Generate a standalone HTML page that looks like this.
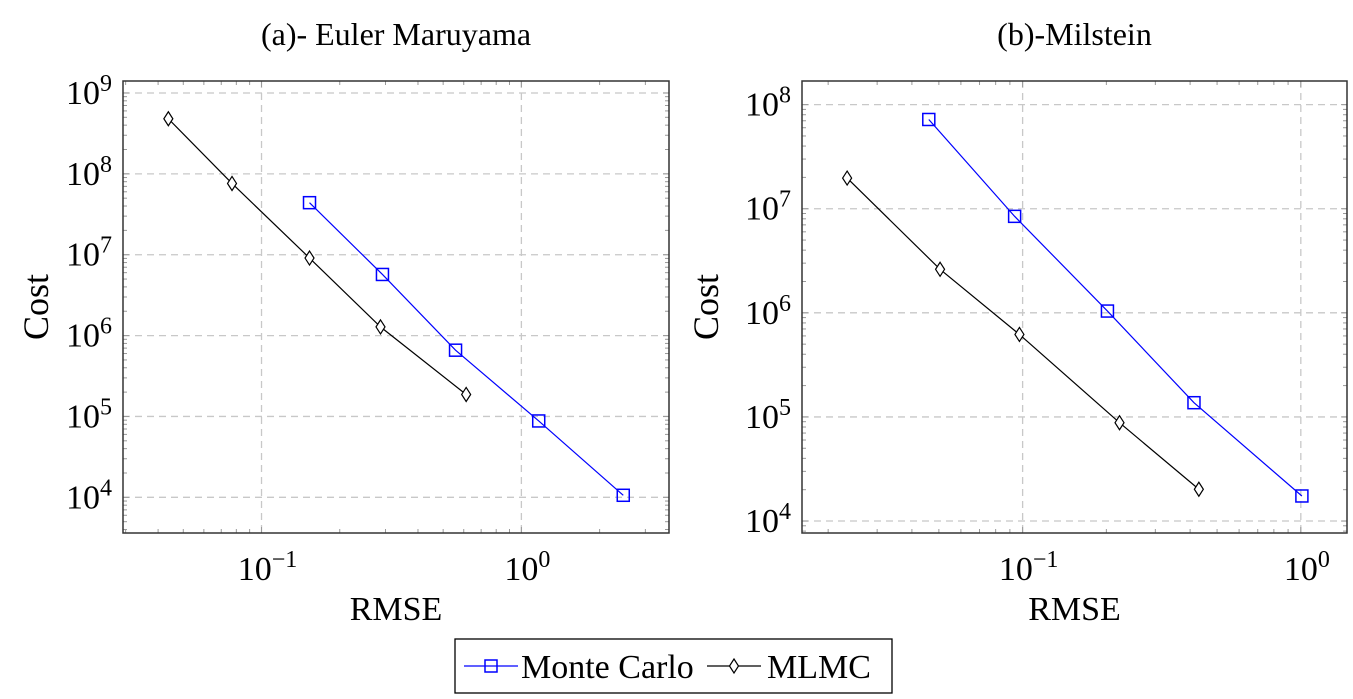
<!DOCTYPE html>
<html><head><meta charset="utf-8"><style>
body{margin:0;background:#fff;}
svg{display:block;}
text{font-family:"Liberation Serif","DejaVu Serif",serif;}
</style></head><body>
<svg id="c" width="1353" height="699" viewBox="0 0 1353 699" font-family="Liberation Serif, serif"></svg>
<script>
const euX_mc=[0.153,0.292,0.558,1.166,2.466];
const euY_mc=[4.4e7,5.7e6,6.6e5,8.8e4,1.06e4];
const euX_ml=[0.0438,0.077,0.153,0.287,0.613];
const euY_ml=[4.8e8,7.6e7,9.1e6,1.28e6,1.87e5];
const miX_mc=[0.046,0.0936,0.2018,0.413,1.009];
const miY_mc=[7.2e7,8.45e6,1.04e6,1.37e5,1.74e4];
const miX_ml=[0.0234,0.0505,0.0974,0.223,0.430];
const miY_ml=[1.97e7,2.62e6,6.2e5,8.8e4,2.02e4];
const euXTicks=[-1,0], euYTicks=[4,5,6,7,8,9];
const miXTicks=[-1,0], miYTicks=[4,5,6,7,8];
const titles=["(a)- Euler Maruyama","(b)-Milstein"];

const NS="http://www.w3.org/2000/svg";
const svg=document.getElementById('c');
const FF='Liberation Serif, DejaVu Serif, serif';
function mk(tag,attrs,parent){const e=document.createElementNS(NS,tag);for(const k in attrs)e.setAttribute(k,attrs[k]);if(tag=='text')e.setAttribute('font-family',FF);(parent||svg).appendChild(e);return e;}

function panel(p){
  const g=mk('g',{});
  
  
  const sx=v=>p.x0+(Math.log10(v)-p.xmin)/(p.xmax-p.xmin)*(p.x1-p.x0);
  const sy=v=>p.y1-(Math.log10(v)-p.ymin)/(p.ymax-p.ymin)*(p.y1-p.y0);
  const sxl=l=>p.x0+(l-p.xmin)/(p.xmax-p.xmin)*(p.x1-p.x0);
  const syl=l=>p.y1-(l-p.ymin)/(p.ymax-p.ymin)*(p.y1-p.y0);
  p.xt.forEach(t=>{const x=sxl(t);const l=mk('line',{x1:x,x2:x,y1:p.y0,y2:p.y1,stroke:'#c8c8c8','stroke-width':1.3,'stroke-dasharray':'7 5'},g);});
  p.yt.forEach(t=>{const y=syl(t);const l=mk('line',{x1:p.x0,x2:p.x1,y1:y,y2:y,stroke:'#c8c8c8','stroke-width':1.3,'stroke-dasharray':'7 5'},g);});
  for(let d=Math.floor(p.xmin);d<=Math.ceil(p.xmax);d++)for(let m=1;m<10;m++){const l=d+Math.log10(m);if(l<p.xmin||l>p.xmax)continue;const x=sxl(l);const len=m==1?6:4;
    mk('line',{x1:x,x2:x,y1:p.y1,y2:p.y1-len,stroke:'#999','stroke-width':1},g);mk('line',{x1:x,x2:x,y1:p.y0,y2:p.y0+len,stroke:'#999','stroke-width':1},g);}
  for(let d=Math.floor(p.ymin);d<=Math.ceil(p.ymax);d++)for(let m=1;m<10;m++){const l=d+Math.log10(m);if(l<p.ymin||l>p.ymax)continue;const y=syl(l);const len=m==1?6:4;
    mk('line',{x1:p.x0,x2:p.x0+len,y1:y,y2:y,stroke:'#999','stroke-width':1},g);mk('line',{x1:p.x1,x2:p.x1-len,y1:y,y2:y,stroke:'#999','stroke-width':1},g);}
  const fr=mk('rect',{x:p.x0,y:p.y0,width:p.x1-p.x0,height:p.y1-p.y0,fill:'none',stroke:'#333','stroke-width':1.5},g);
  
  p.xt.forEach(t=>{const tx=mk('text',{x:sxl(t)+6,y:p.y1+47,'text-anchor':'middle','font-size':34},g);
    tx.innerHTML='10<tspan dy="-13" font-size="24">'+(t<0?'\u2212'+(-t):t)+'</tspan>';});
  p.yt.forEach(t=>{const tx=mk('text',{x:p.x0-11,y:syl(t)+11,'text-anchor':'end','font-size':34},g);
    tx.innerHTML='10<tspan dy="-13" font-size="24">'+t+'</tspan>';});
  const ti=mk('text',{x:(p.x0+p.x1)/2,y:45,'text-anchor':'middle','font-size':32},g);ti.textContent=p.title;
  const xl=mk('text',{x:(p.x0+p.x1)/2,y:620,'text-anchor':'middle','font-size':34},g);xl.textContent='RMSE';
  const yl=mk('text',{x:0,y:0,'text-anchor':'middle','font-size':36,transform:`translate(${p.ylx},${(p.y0+p.y1)/2}) rotate(-90)`},g);yl.textContent='Cost';
  function series(xs,ys,color,shape,name){
    const pts=xs.map((v,i)=>[sx(v),sy(ys[i])]);
    const pl=mk('polyline',{points:pts.map(q=>q.join(',')).join(' '),fill:'none',stroke:color,'stroke-width':1.2},g);
    
    pts.forEach(q=>{let m;
      if(shape=='sq')m=mk('rect',{x:q[0]-6,y:q[1]-6,width:12,height:12,fill:'none',stroke:color,'stroke-width':1.5},g);
      else m=mk('polygon',{points:`${q[0]},${q[1]-7} ${q[0]+4.5},${q[1]} ${q[0]},${q[1]+7} ${q[0]-4.5},${q[1]}`,fill:'#fff',stroke:color,'stroke-width':1.2},g);
      });
  }
  series(p.mlx,p.mly,'#000','di','mlmc');
  series(p.mcx,p.mcy,'#0000ff','sq','monte-carlo');
}
panel({name:'euler-maruyama-panel',title:titles[0],x0:123,x1:669,y0:81,y1:533,xmin:-1.533,xmax:0.568,ymin:3.559,ymax:9.148,xt:euXTicks,yt:euYTicks,ylx:48,mcx:euX_mc,mcy:euY_mc,mlx:euX_ml,mly:euY_ml});
panel({name:'milstein-panel',title:titles[1],x0:802,x1:1347,y0:81,y1:533,xmin:-1.793,xmax:0.166,ymin:3.885,ymax:8.227,xt:miXTicks,yt:miYTicks,ylx:718,mcx:miX_mc,mcy:miY_mc,mlx:miX_ml,mly:miY_ml});
const lg=mk('g',{});


mk('rect',{x:455,y:639,width:437,height:54,fill:'#fff',stroke:'#000','stroke-width':1.3},lg);
mk('line',{x1:464,x2:518,y1:666,y2:666,stroke:'#0000ff','stroke-width':1.3},lg);
mk('rect',{x:485,y:660,width:12,height:12,fill:'none',stroke:'#0000ff','stroke-width':1.5},lg);
const t1=mk('text',{x:521,y:678,'font-size':34},lg);t1.textContent='Monte Carlo';


mk('line',{x1:707,x2:761,y1:666,y2:666,stroke:'#000','stroke-width':1.2},lg);
mk('polygon',{points:'734,659 738.5,666 734,673 729.5,666',fill:'#fff',stroke:'#000','stroke-width':1.2},lg);
const t2=mk('text',{x:767,y:678,'font-size':34},lg);t2.textContent='MLMC';


</script>
</body></html>
